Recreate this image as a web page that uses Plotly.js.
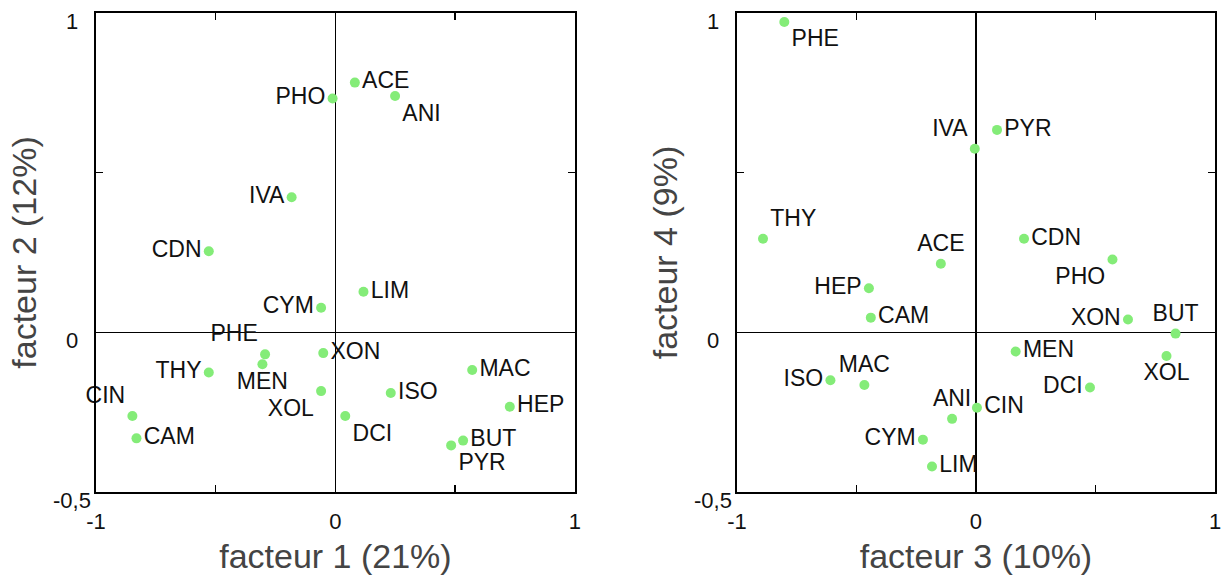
<!DOCTYPE html>
<html>
<head>
<meta charset="utf-8">
<script src="https://cdn.plot.ly/plotly-3.0.1.min.js"></script>
<style>html,body{margin:0;padding:0;background:#fff;}#chart{width:1223px;height:582px;}</style>
</head>
<body>
<div id="chart"></div>
<script>
// Variable names (same order in both panels)
const names = ['ACE','PHO','ANI','IVA','CDN','LIM','CYM','PHE','MEN','THY','XON','XOL','CIN','CAM','DCI','ISO','MAC','HEP','BUT','PYR'];
// Panel 1: factor 1 vs factor 2
const f1 = [0.081,-0.012,0.249,-0.183,-0.529,0.117,-0.060,-0.294,-0.305,-0.529,-0.051,-0.060,-0.848,-0.831,0.041,0.231,0.571,0.728,0.533,0.483];
const f2 = [0.782,0.732,0.740,0.423,0.254,0.127,0.077,-0.069,-0.100,-0.126,-0.065,-0.184,-0.262,-0.332,-0.262,-0.190,-0.118,-0.233,-0.339,-0.354];
// Panel 2: factor 3 vs factor 4
const f3 = [-0.147,0.571,-0.100,-0.005,0.201,-0.184,-0.222,-0.802,0.166,-0.891,0.636,0.797,0.004,-0.440,0.477,-0.609,-0.467,-0.448,0.835,0.088];
const f4 = [0.215,0.228,-0.271,0.575,0.293,-0.420,-0.336,0.972,-0.060,0.293,0.040,-0.074,-0.236,0.046,-0.173,-0.150,-0.165,0.138,-0.004,0.634];
// Axis titles and ticks
const xTitle1 = 'facteur 1 (21%)', yTitle1 = 'facteur 2 (12%)';
const xTitle2 = 'facteur 3 (10%)', yTitle2 = 'facteur 4 (9%)';
const xTickVals = [-1,-0.5,0,0.5,1];
const xTickText = ['-1','','0','','1'];
const yTickVals = [-0.5,0,0.5,1];
const yTickText = ['-0,5','0','','1'];

// label placement (style)
const pos1 = ['middle right','middle left','bottom right','middle left','middle left','middle right','middle left','top left','bottom center','middle left',
              'middle right','bottom left','top left','middle right','bottom right','middle right','middle right','middle right','middle right','bottom right'];
const pos2 = ['top center','bottom left','top center','top left','middle right','middle right','middle left','bottom right','middle right','top right',
              'middle left','bottom center','middle right','middle right','middle left','middle left','top center','middle left','top center','middle right'];

const FONT = 'Liberation Sans, Arial, sans-serif';
const green = '#84ec78';

function trace(x, y, pos, xa, ya) {
  return {
    type: 'scatter', mode: 'markers+text', x: x, y: y, text: names,
    textposition: pos, xaxis: xa, yaxis: ya,
    marker: {color: green, size: 10},
    textfont: {family: FONT, size: 23, color: '#111'},
    cliponaxis: false, hoverinfo: 'text'
  };
}

function xAxis(domain, title, anchor) {
  return {
    domain: domain, range: [-1, 1], anchor: anchor,
    tickvals: xTickVals, ticktext: xTickText,
    ticks: 'inside', ticklen: 7, tickwidth: 1.5, tickcolor: '#000',
    showline: true, linecolor: '#000', linewidth: 2, mirror: 'ticks',
    showgrid: false, zeroline: true, zerolinecolor: '#000', zerolinewidth: 1.5,
    tickfont: {family: FONT, size: 22, color: '#111'},
    ticklabelstandoff: 9,
    title: {text: title, font: {family: FONT, size: 34, color: '#444'}, standoff: 11},
    fixedrange: true
  };
}
function yAxis(title, anchor) {
  return {
    domain: [0, 1], range: [-0.5, 1], anchor: anchor,
    tickvals: yTickVals, ticktext: yTickText, showticklabels: false,
    ticks: 'inside', ticklen: 7, tickwidth: 1.5, tickcolor: '#000',
    showline: true, linecolor: '#000', linewidth: 2, mirror: 'ticks',
    showgrid: false, zeroline: true, zerolinecolor: '#000', zerolinewidth: 1.5,
    title: {text: title, font: {family: FONT, size: 34, color: '#444'}, standoff: 47},
    fixedrange: true
  };
}

const annotations = [];
[['x domain','y'],['x2 domain','y2']].forEach(function (r) {
  yTickVals.forEach(function (v, i) {
    if (!yTickText[i]) return;
    annotations.push({xref: r[0], yref: r[1], x: -0.05, y: v, text: yTickText[i],
      xanchor: 'center', yanchor: 'middle', yshift: -8, showarrow: false,
      font: {family: FONT, size: 22, color: '#111'}});
  });
});

const layout = {
  width: 1223, height: 582,
  margin: {l: 96, r: 8, t: 13, b: 90},
  paper_bgcolor: '#fff', plot_bgcolor: '#fff',
  showlegend: false,
  xaxis: xAxis([0, 0.428], xTitle1, 'y'),
  yaxis: yAxis(yTitle1, 'x'),
  xaxis2: xAxis([0.5728, 1], xTitle2, 'y2'),
  yaxis2: yAxis(yTitle2, 'x2'),
  annotations: annotations
};

Plotly.newPlot('chart', [trace(f1, f2, pos1, 'x', 'y'), trace(f3, f4, pos2, 'x2', 'y2')], layout, {displayModeBar: false, staticPlot: true});
</script>
</body>
</html>
